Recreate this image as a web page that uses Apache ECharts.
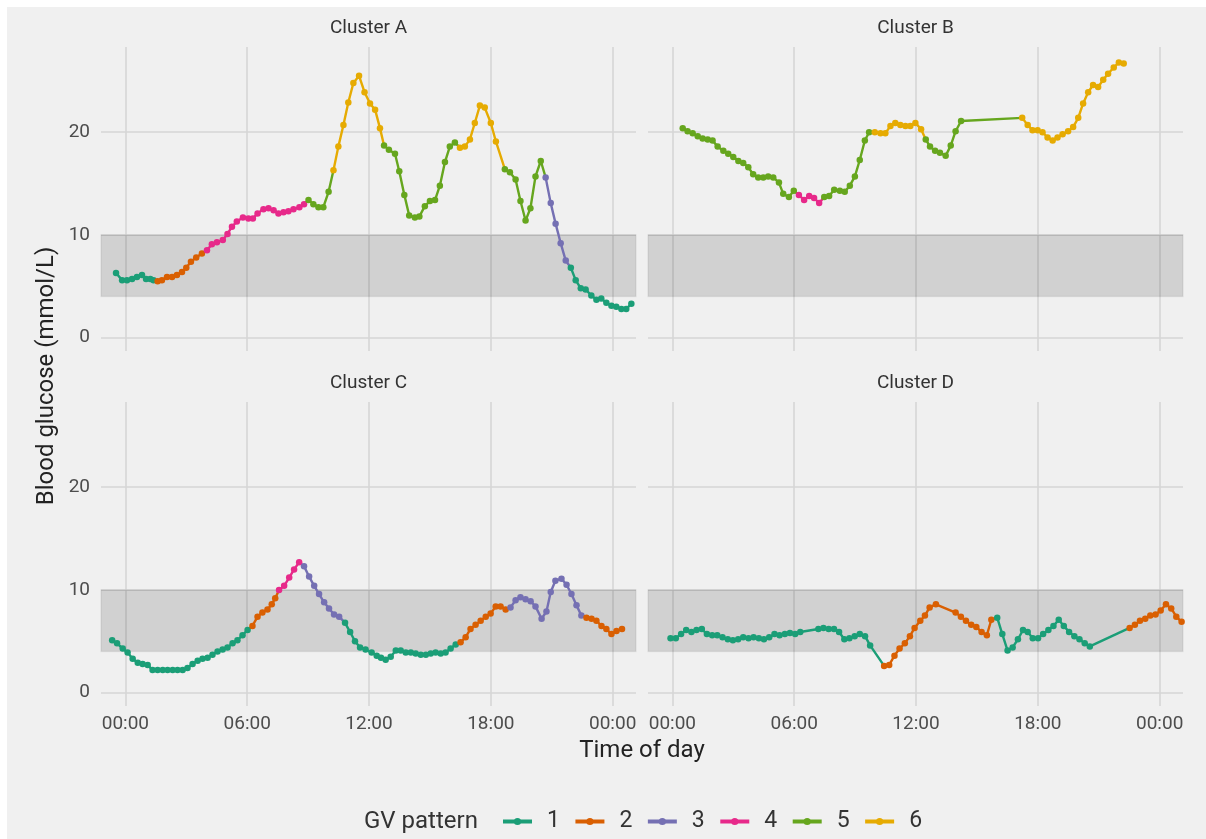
<!DOCTYPE html>
<html>
<head>
<meta charset="utf-8">
<title>Blood glucose by GV pattern</title>
<script src="https://cdn.jsdelivr.net/npm/echarts@6/dist/echarts.min.js"></script>
<style>
  html, body { margin: 0; padding: 0; background: #fff; }
  #chart { width: 1206px; height: 839px; }
</style>
</head>
<body>
<div id="chart"></div>
<script>
// time = hours after midnight, glucose = mmol/L, pattern = GV pattern of each reading
const clusterA_time = [-0.46, -0.16, 0.08, 0.33, 0.57, 0.82, 1.02, 1.23, 1.39,
  1.59, 1.8, 2.05, 2.3, 2.54, 2.79, 3.0, 3.23, 3.49, 3.77,
  4.02, 4.26, 4.51, 4.8, 5.03, 5.25, 5.49, 5.79, 6.06, 6.28, 6.51, 6.8, 7.05, 7.3, 7.54, 7.79, 8.03, 8.28, 8.57, 8.8,
  9.02, 9.26, 9.51, 9.75, 10.01,
  10.25, 10.49, 10.74, 10.98, 11.23, 11.51, 11.78, 12.05, 12.3, 12.54,
  12.74, 12.98, 13.28, 13.49, 13.74, 13.98, 14.26, 14.48, 14.75, 15.0, 15.25, 15.49, 15.74, 15.98, 16.23,
  16.48, 16.72, 16.97, 17.21, 17.46, 17.7, 18.0, 18.25,
  18.69, 18.94, 19.22, 19.46, 19.71, 19.95, 20.2, 20.46,
  20.7, 20.95, 21.19, 21.44, 21.69,
  21.94, 22.18, 22.43, 22.67, 22.95, 23.2, 23.44, 23.69, 23.94, 24.18, 24.43, 24.67, 24.92];
const clusterA_glucose = [6.3, 5.6, 5.6, 5.7, 5.9, 6.1, 5.7, 5.7, 5.6,
  5.5, 5.6, 5.9, 5.9, 6.1, 6.4, 6.8, 7.4, 7.8, 8.2,
  8.5, 9.1, 9.3, 9.5, 10.1, 10.8, 11.3, 11.7, 11.6, 11.6, 12.1, 12.5, 12.6, 12.4, 12.1, 12.2, 12.3, 12.5, 12.7, 13.0,
  13.4, 13.0, 12.7, 12.7, 14.2,
  16.3, 18.6, 20.7, 22.9, 24.8, 25.5, 23.9, 22.8, 22.2, 20.4,
  18.7, 18.3, 17.9, 16.2, 13.9, 11.9, 11.7, 11.8, 12.8, 13.3, 13.4, 14.8, 17.1, 18.6, 19.0,
  18.5, 18.6, 19.3, 20.9, 22.6, 22.4, 20.9, 19.1,
  16.4, 16.1, 15.4, 13.3, 11.4, 12.6, 15.7, 17.2,
  15.6, 13.1, 11.1, 9.2, 7.5,
  6.8, 5.6, 4.8, 4.7, 4.1, 3.7, 3.8, 3.4, 3.1, 3.0, 2.8, 2.8, 3.3];
const clusterA_pattern = [1, 1, 1, 1, 1, 1, 1, 1, 1,
  2, 2, 2, 2, 2, 2, 2, 2, 2, 2,
  4, 4, 4, 4, 4, 4, 4, 4, 4, 4, 4, 4, 4, 4, 4, 4, 4, 4, 4, 4,
  5, 5, 5, 5, 5,
  6, 6, 6, 6, 6, 6, 6, 6, 6, 6,
  5, 5, 5, 5, 5, 5, 5, 5, 5, 5, 5, 5, 5, 5, 5,
  6, 6, 6, 6, 6, 6, 6, 6,
  5, 5, 5, 5, 5, 5, 5, 5,
  3, 3, 3, 3, 3,
  1, 1, 1, 1, 1, 1, 1, 1, 1, 1, 1, 1, 1];

const clusterB_time = [0.51, 0.75, 1.0, 1.25, 1.49, 1.74, 1.98, 2.23, 2.51, 2.75, 3.0, 3.25, 3.49, 3.74, 3.98, 4.23, 4.48, 4.72, 4.97, 5.25, 5.46, 5.74, 5.98,
  6.23, 6.49, 6.74, 6.98, 7.23,
  7.48, 7.72, 7.97, 8.25, 8.49, 8.74, 8.99, 9.23, 9.48, 9.69,
  9.97, 10.25, 10.49, 10.74, 10.98, 11.23, 11.48, 11.72, 11.97, 12.25,
  12.48, 12.69, 12.94, 13.18, 13.46, 13.71, 13.95, 14.22,
  17.23, 17.5, 17.74, 17.99, 18.23, 18.48, 18.73, 18.97, 19.22, 19.49, 19.74, 19.99, 20.23, 20.48, 20.72, 20.97, 21.22, 21.46, 21.74, 21.99, 22.23];
const clusterB_glucose = [20.4, 20.1, 19.9, 19.6, 19.4, 19.3, 19.2, 18.6, 18.2, 17.9, 17.6, 17.2, 17.0, 16.6, 15.9, 15.6, 15.6, 15.7, 15.6, 15.1, 14.0, 13.7, 14.3,
  13.9, 13.4, 13.8, 13.6, 13.1,
  13.7, 13.8, 14.4, 14.3, 14.2, 14.8, 15.7, 17.3, 19.2, 20.0,
  20.0, 19.9, 19.9, 20.6, 20.9, 20.7, 20.6, 20.6, 20.9, 20.3,
  19.3, 18.6, 18.2, 18.0, 17.7, 18.7, 20.1, 21.1,
  21.4, 20.7, 20.2, 20.2, 20.0, 19.5, 19.2, 19.5, 19.8, 20.1, 20.5, 21.4, 22.8, 23.9, 24.6, 24.4, 25.1, 25.7, 26.3, 26.8, 26.7];
const clusterB_pattern = [5, 5, 5, 5, 5, 5, 5, 5, 5, 5, 5, 5, 5, 5, 5, 5, 5, 5, 5, 5, 5, 5, 5,
  4, 4, 4, 4, 4,
  5, 5, 5, 5, 5, 5, 5, 5, 5, 5,
  6, 6, 6, 6, 6, 6, 6, 6, 6, 6,
  5, 5, 5, 5, 5, 5, 5, 5,
  6, 6, 6, 6, 6, 6, 6, 6, 6, 6, 6, 6, 6, 6, 6, 6, 6, 6, 6, 6, 6];

const clusterC_time = [-0.65, -0.41, -0.13, 0.11, 0.36, 0.61, 0.85, 1.1, 1.34, 1.59, 1.84, 2.08, 2.33, 2.57, 2.82, 3.06, 3.31, 3.56, 3.8, 4.05, 4.29, 4.54, 4.79, 5.03, 5.28, 5.52, 5.77, 6.02,
  6.26, 6.51, 6.75, 7.0, 7.21, 7.38,
  7.57, 7.82, 8.07, 8.31, 8.56,
  8.8, 9.05, 9.3, 9.54, 9.79, 10.03, 10.28, 10.53,
  10.82, 11.07, 11.31, 11.56, 11.83, 12.13, 12.38, 12.59, 12.82, 13.07, 13.32, 13.56, 13.81, 14.06, 14.3, 14.55, 14.8, 15.04, 15.28, 15.53, 15.77, 16.02, 16.27,
  16.51, 16.76, 17.0, 17.25, 17.5, 17.75, 17.99, 18.24, 18.48, 18.73,
  18.97, 19.22, 19.46, 19.71, 19.96, 20.2, 20.5, 20.74, 20.95, 21.18, 21.48, 21.73, 21.97, 22.22, 22.46,
  22.71, 22.96, 23.2, 23.45, 23.69, 23.94, 24.19, 24.46];
const clusterC_glucose = [5.1, 4.8, 4.3, 3.9, 3.3, 2.9, 2.8, 2.7, 2.2, 2.2, 2.2, 2.2, 2.2, 2.2, 2.2, 2.4, 2.8, 3.1, 3.3, 3.4, 3.7, 4.0, 4.2, 4.4, 4.8, 5.1, 5.6, 6.1,
  6.5, 7.4, 7.8, 8.1, 8.6, 9.2,
  10.0, 10.4, 11.2, 12.0, 12.7,
  12.3, 11.3, 10.4, 9.6, 8.8, 8.2, 7.6, 7.4,
  6.8, 5.9, 5.0, 4.4, 4.2, 3.9, 3.6, 3.4, 3.2, 3.5, 4.1, 4.1, 3.9, 3.9, 3.8, 3.7, 3.7, 3.8, 3.9, 3.8, 3.9, 4.3, 4.7,
  4.9, 5.4, 6.2, 6.6, 7.0, 7.4, 7.7, 8.4, 8.4, 8.1,
  8.3, 9.0, 9.3, 9.1, 8.9, 8.4, 7.2, 7.9, 9.8, 10.9, 11.1, 10.5, 9.6, 8.5, 7.5,
  7.3, 7.2, 7.0, 6.5, 6.2, 5.7, 6.0, 6.2];
const clusterC_pattern = [1, 1, 1, 1, 1, 1, 1, 1, 1, 1, 1, 1, 1, 1, 1, 1, 1, 1, 1, 1, 1, 1, 1, 1, 1, 1, 1, 1,
  2, 2, 2, 2, 2, 2,
  4, 4, 4, 4, 4,
  3, 3, 3, 3, 3, 3, 3, 3,
  1, 1, 1, 1, 1, 1, 1, 1, 1, 1, 1, 1, 1, 1, 1, 1, 1, 1, 1, 1, 1, 1, 1,
  2, 2, 2, 2, 2, 2, 2, 2, 2, 2,
  3, 3, 3, 3, 3, 3, 3, 3, 3, 3, 3, 3, 3, 3, 3,
  2, 2, 2, 2, 2, 2, 2, 2];

const clusterD_time = [-0.09, 0.17, 0.43, 0.68, 0.94, 1.19, 1.45, 1.7, 1.96, 2.21, 2.47, 2.73, 2.98, 3.24, 3.49, 3.75, 4.0, 4.26, 4.51, 4.77, 5.03, 5.28, 5.54, 5.79, 6.05, 6.3,
  7.19, 7.44, 7.7, 7.96, 8.21, 8.47, 8.72, 8.98, 9.23, 9.49, 9.74,
  10.43, 10.68, 10.94, 11.19, 11.45, 11.7, 11.93, 12.21, 12.44, 12.67, 12.98, 13.95, 14.21, 14.46, 14.72, 14.97, 15.23, 15.49, 15.71,
  16.0, 16.25, 16.51, 16.76, 17.02, 17.27, 17.5, 17.75, 18.01, 18.26, 18.52, 18.77, 19.03, 19.28, 19.54, 19.8, 20.05, 20.31, 20.56,
  22.52, 22.78, 23.03, 23.29, 23.54, 23.8, 24.05, 24.31, 24.57, 24.82, 25.08];
const clusterD_glucose = [5.3, 5.3, 5.7, 6.1, 5.9, 6.1, 6.2, 5.7, 5.6, 5.6, 5.4, 5.2, 5.1, 5.2, 5.4, 5.3, 5.4, 5.3, 5.2, 5.4, 5.7, 5.6, 5.7, 5.8, 5.7, 5.9,
  6.2, 6.3, 6.2, 6.2, 5.9, 5.2, 5.3, 5.5, 5.7, 5.5, 4.6,
  2.6, 2.7, 3.6, 4.3, 4.8, 5.5, 6.3, 7.0, 7.5, 8.3, 8.6, 7.8, 7.4, 7.0, 6.6, 6.4, 5.9, 5.6, 7.1,
  7.3, 5.7, 4.1, 4.4, 5.2, 6.1, 5.9, 5.3, 5.3, 5.7, 6.1, 6.5, 7.1, 6.5, 5.9, 5.5, 5.2, 4.8, 4.5,
  6.3, 6.6, 7.0, 7.2, 7.5, 7.6, 8.0, 8.6, 8.2, 7.4, 6.9];
const clusterD_pattern = [1, 1, 1, 1, 1, 1, 1, 1, 1, 1, 1, 1, 1, 1, 1, 1, 1, 1, 1, 1, 1, 1, 1, 1, 1, 1,
  1, 1, 1, 1, 1, 1, 1, 1, 1, 1, 1,
  2, 2, 2, 2, 2, 2, 2, 2, 2, 2, 2, 2, 2, 2, 2, 2, 2, 2, 2,
  1, 1, 1, 1, 1, 1, 1, 1, 1, 1, 1, 1, 1, 1, 1, 1, 1, 1, 1,
  2, 2, 2, 2, 2, 2, 2, 2, 2, 2, 2];

const clusterNames = ['Cluster A', 'Cluster B', 'Cluster C', 'Cluster D'];
const patternNames = ['1', '2', '3', '4', '5', '6'];
const patternColors = ['#1B9E77', '#D95F02', '#7570B3', '#E7298A', '#66A61E', '#E6AB02'];
const timeTicks = [0, 6, 12, 18, 24];
const timeTickLabels = ['00:00', '06:00', '12:00', '18:00', '00:00'];
const glucoseTicks = [0, 10, 20];
const targetRange = [4, 10];

const panels = [
  { time: clusterA_time, glucose: clusterA_glucose, pattern: clusterA_pattern },
  { time: clusterB_time, glucose: clusterB_glucose, pattern: clusterB_pattern },
  { time: clusterC_time, glucose: clusterC_glucose, pattern: clusterC_pattern },
  { time: clusterD_time, glucose: clusterD_glucose, pattern: clusterD_pattern },
];

const FONT = 'Roboto, "Liberation Sans", Arial, sans-serif';
const panelW = 535;
const panelH = 304;
const boxes = [
  { left: 101, top: 47 },
  { left: 648, top: 47 },
  { left: 101, top: 402 },
  { left: 648, top: 402 },
];
const gridLine = { color: '#d6d6d6', width: 1.6 };

const grids = boxes.map((b) => ({ left: b.left, top: b.top, width: panelW, height: panelH }));

const xAxes = boxes.map((b, i) => ({
  gridIndex: i,
  type: 'value',
  min: -1.2,
  max: 25.15,
  axisLine: { show: false },
  axisTick: { show: false, customValues: timeTicks },
  axisLabel: {
    show: i >= 2,
    customValues: timeTicks,
    formatter: (v) => timeTickLabels[timeTicks.indexOf(v)],
    color: '#4d4d4d',
    fontSize: 19,
    fontFamily: FONT,
    margin: 9,
  },
  splitLine: { show: true, lineStyle: gridLine },
}));

const yAxes = boxes.map((b, i) => ({
  gridIndex: i,
  type: 'value',
  min: -1.3,
  max: 28.3,
  axisLine: { show: false },
  axisTick: { show: false, customValues: glucoseTicks },
  axisLabel: {
    show: i % 2 === 0,
    customValues: glucoseTicks,
    color: '#4d4d4d',
    fontSize: 19,
    fontFamily: FONT,
    margin: 11,
  },
  splitLine: { show: true, lineStyle: gridLine },
}));

const series = [];

// shaded target range in every panel
panels.forEach((p, pi) => {
  series.push({
    type: 'line',
    xAxisIndex: pi,
    yAxisIndex: pi,
    data: [],
    silent: true,
    markArea: {
      silent: true,
      itemStyle: { color: 'rgba(0,0,0,0.13)', borderColor: 'rgba(0,0,0,0.06)', borderWidth: 1.5 },
      data: [[{ yAxis: targetRange[0] }, { yAxis: targetRange[1] }]],
    },
  });
});

// one line series per run of equal pattern; each run also reaches the first
// reading of the next run so the trace stays connected
panels.forEach((p, pi) => {
  let start = 0;
  for (let i = 1; i <= p.time.length; i++) {
    if (i < p.time.length && p.pattern[i] === p.pattern[start]) continue;
    const pts = [];
    for (let k = start; k < i; k++) pts.push([p.time[k], p.glucose[k]]);
    if (i < p.time.length) pts.push({ value: [p.time[i], p.glucose[i]], symbol: 'none' });
    const idx = p.pattern[start] - 1;
    series.push({
      name: patternNames[idx],
      type: 'line',
      xAxisIndex: pi,
      yAxisIndex: pi,
      data: pts,
      symbol: 'circle',
      symbolSize: 6.5,
      showAllSymbol: true,
      color: patternColors[idx],
      lineStyle: { width: 2.4, color: patternColors[idx] },
      itemStyle: { color: patternColors[idx] },
      emphasis: { disabled: true },
      silent: true,
    });
    start = i;
  }
});

const graphics = [
  { type: 'rect', shape: { x: 0, y: 0, width: 1206, height: 7 }, style: { fill: '#fff' }, silent: true },
  { type: 'rect', shape: { x: 0, y: 0, width: 7, height: 839 }, style: { fill: '#fff' }, silent: true },
];
boxes.forEach((b, i) => {
  graphics.push({
    type: 'text',
    x: b.left + panelW / 2,
    y: b.top - 19,
    style: { text: clusterNames[i], fill: '#333', font: '19px ' + FONT, textAlign: 'center', textVerticalAlign: 'middle' },
  });
});
graphics.push({
  type: 'text', x: 642, y: 751,
  style: { text: 'Time of day', fill: '#222', font: '24px ' + FONT, textAlign: 'center', textVerticalAlign: 'middle' },
});
graphics.push({
  type: 'text', x: 47, y: 376, rotation: Math.PI / 2,
  style: { text: 'Blood glucose (mmol/L)', fill: '#222', font: '24px ' + FONT, textAlign: 'center', textVerticalAlign: 'middle' },
});
graphics.push({
  type: 'text', x: 364, y: 822,
  style: { text: 'GV pattern', fill: '#333', font: '24px ' + FONT, textAlign: 'left', textVerticalAlign: 'middle' },
});

const chart = echarts.init(document.getElementById('chart'));
chart.setOption({
  backgroundColor: '#f0f0f0',
  animation: false,
  textStyle: { fontFamily: FONT },
  grid: grids,
  xAxis: xAxes,
  yAxis: yAxes,
  legend: {
    data: patternNames,
    left: 501,
    top: 810,
    padding: 0,
    itemWidth: 29,
    itemHeight: 9,
    itemGap: 13.5,
    lineStyle: { width: 4 },
    textStyle: { fontSize: 23, color: '#333', fontFamily: FONT, padding: [0, 0, 0, 10] },
    selectedMode: false,
  },
  graphic: graphics,
  series: series,
});
</script>
</body>
</html>
